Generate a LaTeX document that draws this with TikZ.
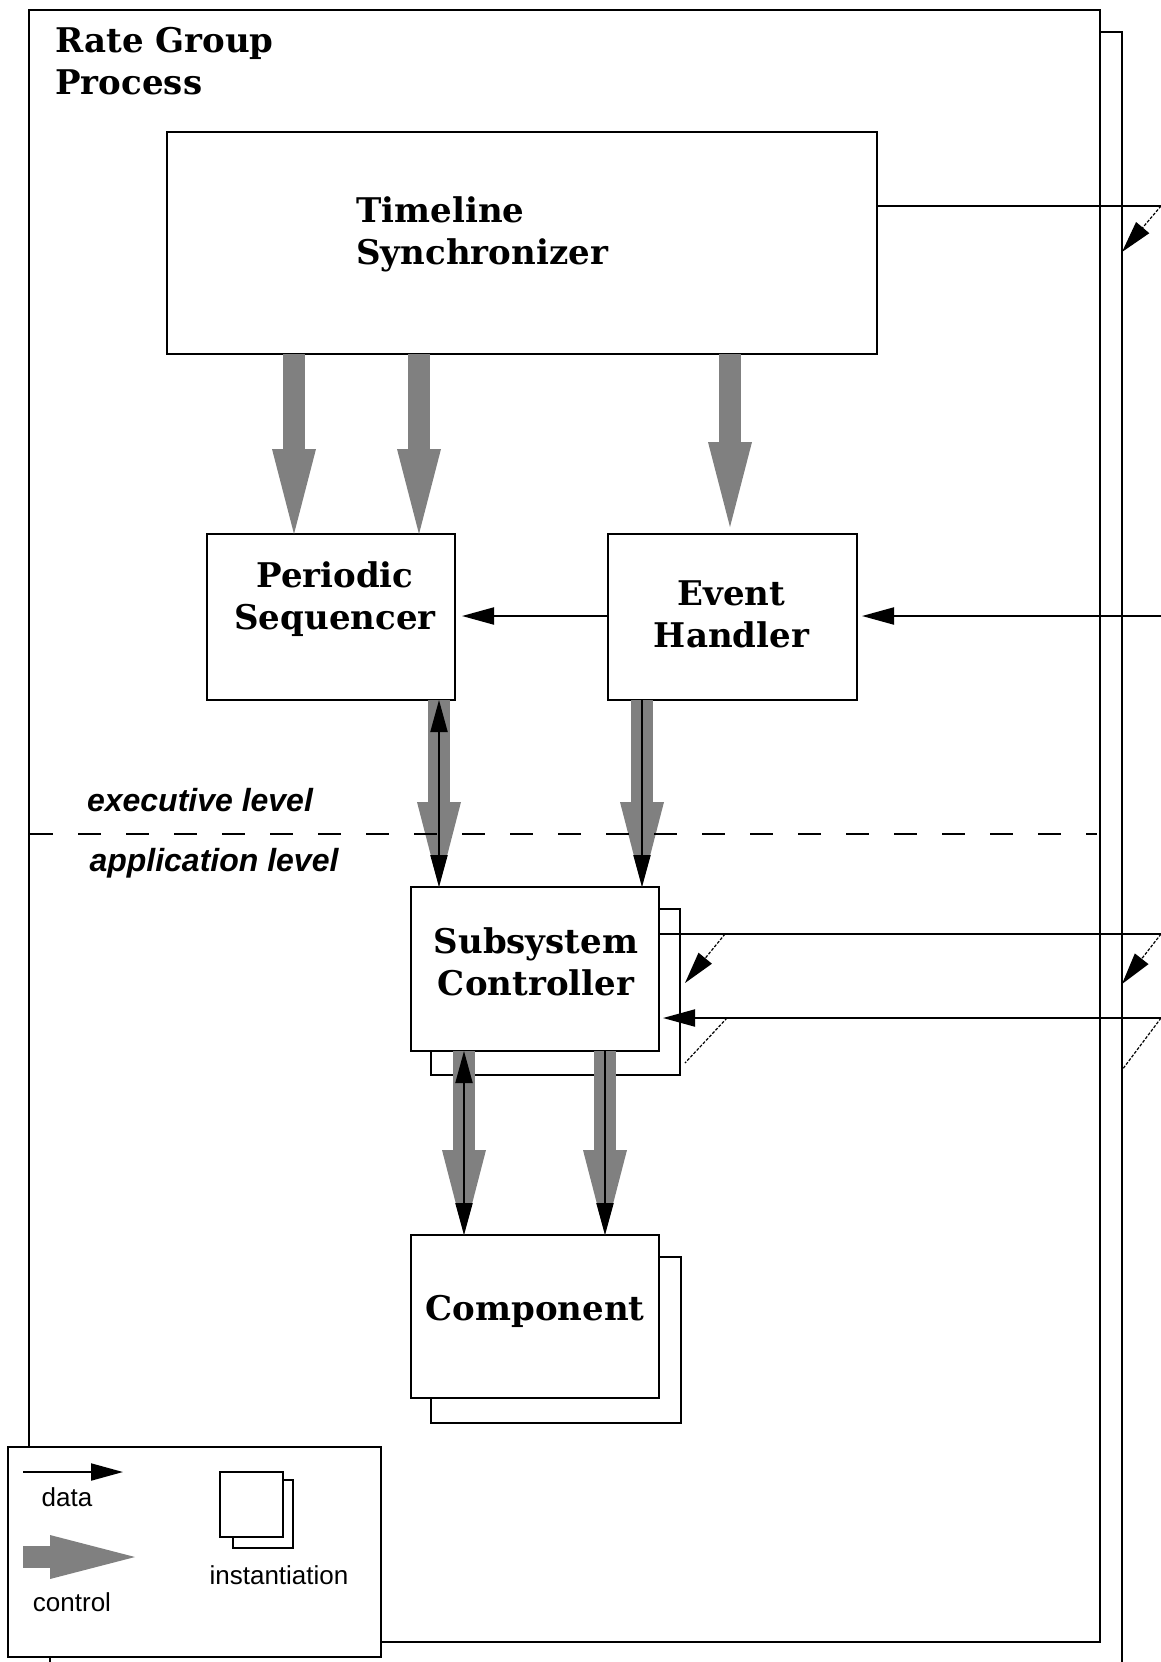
\documentclass[tikz,border=0pt]{standalone}
\usepackage{fontspec}
\setmainfont{DejaVu Serif}
\newfontfamily\legfont{Liberation Sans}
\newfontfamily\lvlfont{Liberation Sans}
\usetikzlibrary{arrows.meta}
\definecolor{ctrlgray}{gray}{0.5}
\begin{document}
\begin{tikzpicture}[x=0.5pt,y=-0.5pt,
  >={Triangle[length=16pt,width=8.5pt]},
  box/.style={draw,line width=1pt,fill=white,inner sep=0pt,outer sep=0pt},
  lbl/.style={font=\fontsize{17}{21}\selectfont\bfseries,align=center,inner sep=0pt},
  data/.style={line width=1pt},
  offp/.style={line width=0.6pt,dash pattern=on 1.5pt off 0.8pt},
  ctrl/.style={line width=11pt,draw=ctrlgray,-{Triangle[length=42.5pt,width=22pt,line width=0pt]}},
  lvl/.style={font=\lvlfont\bfseries\itshape\fontsize{16}{19}\selectfont,inner sep=0pt},
  leg/.style={font=\legfont\fontsize{13}{15}\selectfont,inner sep=0pt}]
\useasboundingbox (0,0) rectangle (1161,1662);
\clip (0,0) rectangle (1161,1662);
% process stack
\node[box,minimum width=536pt,minimum height=834pt] (procB) at (586,866) {};
\node[box,minimum width=535.5pt,minimum height=816pt] (proc) at (564.5,826) {};
\node[lbl,anchor=west,align=left] (title) at (55,61) {Rate Group\\Process};
% boxes
\node[box,minimum width=355pt,minimum height=111pt] (tl) at (522,243) {};
\node[lbl,anchor=west,align=left] (tlt) at (356,234) {Timeline\\Synchronizer};
\node[box,minimum width=124pt,minimum height=83pt] (ps) at (331,617) {};
\node[lbl] (pst) at (335,599) {Periodic\\Sequencer};
\node[box,minimum width=124.5pt,minimum height=83pt] (eh) at (732.5,617) {};
\node[lbl] (eht) at (731.5,614) {Event\\Handler};
\node[box,minimum width=124.5pt,minimum height=83pt] (ssB) at (555.5,992) {};
\node[box,minimum width=124pt,minimum height=82pt] (ss) at (535,969) {};
\node[lbl] (sst) at (536,962) {Subsystem\\Controller};
\node[box,minimum width=125pt,minimum height=83pt] (cpB) at (556,1340) {};
\node[box,minimum width=124pt,minimum height=81.5pt] (cp) at (535,1316.5) {};
\node[lbl] (cpt) at (535,1311) {Component};
% control arrows
\draw[ctrl] ([xshift=-114pt]tl.south) -- ([xshift=-18.5pt]ps.north);
\draw[ctrl] ([xshift=-51.5pt]tl.south) -- ([xshift=44pt]ps.north);
\draw[ctrl,shorten >=3.5pt] ([xshift=104pt]tl.south) -- ([xshift=-1.25pt]eh.north);
\draw[ctrl] ([xshift=54pt]ps.south) -- ([xshift=-48pt]ss.north);
\draw[ctrl] ([xshift=-45.25pt]eh.south) -- ([xshift=53.5pt]ss.north);
\draw[ctrl] ([xshift=-35.5pt]ss.south) -- ([xshift=-35.5pt]cp.north);
\draw[ctrl] ([xshift=35pt]ss.south) -- ([xshift=35pt]cp.north);
% data on control
\draw[data,<->] ([xshift=54pt]ps.south) -- ([xshift=-48pt]ss.north);
\draw[data,->] ([xshift=-45.25pt]eh.south) -- ([xshift=53.5pt]ss.north);
\draw[data,<->] ([xshift=-35.5pt]ss.south) -- ([xshift=-35.5pt]cp.north);
\draw[data,->] ([xshift=35pt]ss.south) -- ([xshift=35pt]cp.north);
% right side data
\coordinate (tlR) at (1161,206);
\coordinate (tlD) at (1122,252);
\draw[data] (tlR -| tl.east) -- (tlR);
\draw[offp,->] (tlR) -- (tlD);
\coordinate (ehR) at (1161,616);
\draw[data,->,shorten >=2.5pt] (ehR) -- (ehR -| eh.east);
\draw[data,->,shorten >=3.5pt] (ehR -| eh.west) -- (ehR -| ps.east);
\coordinate (ssR1) at (1161,934);
\draw[data] (ssR1 -| ss.east) -- (ssR1);
\coordinate (ssA1) at (725,934);
\coordinate (ssA2) at (685,983);
\draw[offp,->] (ssA1) -- (ssA2);
\coordinate (ssB2) at (1122,984);
\draw[offp,->] (ssR1) -- (ssB2);
\coordinate (ssR2) at (1161,1018);
\draw[data,->,shorten >=2pt] (ssR2) -- (ssR2 -| ss.east);
\coordinate (ssC1) at (727,1018);
\coordinate (ssC2) at (685,1063);
\draw[offp] (ssC1) -- (ssC2);
\coordinate (ssD2) at (1122,1070);
\draw[offp] (ssR2) -- (ssD2);
% level divider
\coordinate (lvlL) at (30,834);
\coordinate (lvlR) at (1097,834);
\draw[line width=1pt,dash pattern=on 11.5pt off 12.5pt] (lvlL) -- (lvlR);
\node[lvl] (exe) at (200,800) {executive level};
\node[lvl] (app) at (214,863) {application level};
% legend
\node[box,minimum width=186.5pt,minimum height=105pt] (leg) at (194.5,1552) {};
\coordinate (ldA) at (23,1472);
\coordinate (ldB) at (123,1472);
\draw[data,->] (ldA) -- (ldB);
\node[leg] (ldt) at (67,1497) {data};
\coordinate (lcA) at (23,1557);
\coordinate (lcB) at (135,1557);
\draw[ctrl] (lcA) -- (lcB);
\node[leg] (lct) at (72,1602) {control};
\node[box,minimum width=30pt,minimum height=34pt] (liB) at (263,1514) {};
\node[box,minimum width=31.5pt,minimum height=32.5pt] (liF) at (251.5,1504.5) {};
\node[leg] (lit) at (279,1575) {instantiation};
\end{tikzpicture}
\end{document}
